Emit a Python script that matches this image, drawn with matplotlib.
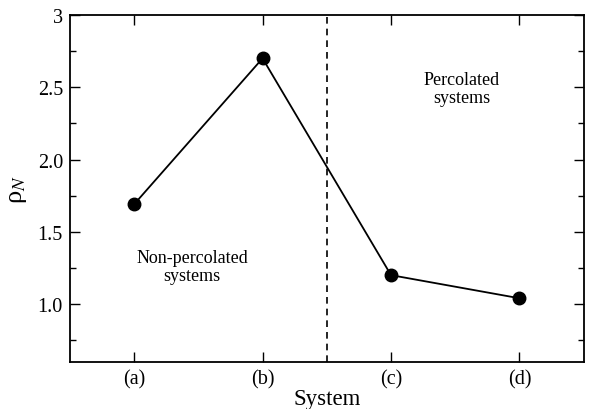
import matplotlib
matplotlib.use("Agg")
import matplotlib.pyplot as plt
from matplotlib.ticker import MultipleLocator

systems = ["(a)", "(b)", "(c)", "(d)"]
rho_n = [1.69, 2.70, 1.20, 1.04]
y_ticks = [1.0, 1.5, 2.0, 2.5, 3.0]
y_tick_labels = ["1.0", "1.5", "2.0", "2.5", "3"]

plt.rcParams['font.family'] = ['Liberation Serif', 'DejaVu Serif']
plt.rcParams['mathtext.fontset'] = 'stix'

fig = plt.figure(figsize=(5.92, 4.10), dpi=100)
ax = fig.add_axes([0.118, 0.115, 0.868, 0.846])

x = list(range(1, len(systems) + 1))
ax.plot(x, rho_n, color='black', lw=1.3, marker='o', ms=9, zorder=3)
ax.axvline(2.5, color='black', lw=1.2, ls=(0, (4, 3)))

ax.set_xlim(0.5, 4.5)
ax.set_ylim(0.6, 3.0)
ax.set_xticks(x)
ax.set_xticklabels(systems)
ax.set_yticks(y_ticks)
ax.set_yticklabels(y_tick_labels)
ax.yaxis.set_minor_locator(MultipleLocator(0.25))

ax.tick_params(axis='both', which='both', direction='in', top=True, right=True,
               labelsize=14.5, width=1)
ax.tick_params(which='major', length=7, pad=5)
ax.tick_params(which='minor', length=4)
for s in ax.spines.values():
    s.set_linewidth(1.3)

ax.set_xlabel("System", fontsize=16.5, labelpad=0)
ax.set_ylabel("ρ$_{N}$", fontsize=19, labelpad=6)

ax.text(1.45, 1.26, "Non-percolated\nsystems", ha='center', va='center', fontsize=13,
        linespacing=1.05)
ax.text(3.55, 2.49, "Percolated\nsystems", ha='center', va='center', fontsize=13,
        linespacing=1.05)

plt.savefig('out.png', dpi=100)
